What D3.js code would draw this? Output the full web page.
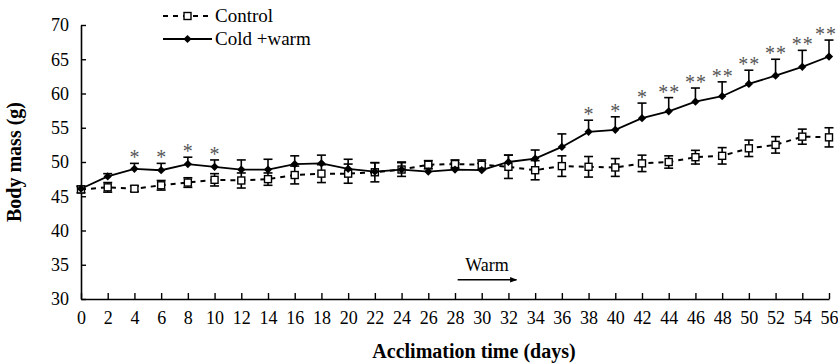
<!DOCTYPE html>
<html><head><meta charset="utf-8">
<script src="https://cdn.jsdelivr.net/npm/d3@7"></script>
<style>
html,body{margin:0;padding:0;background:#fff;}
svg{display:block;font-family:"Liberation Serif","Times New Roman",serif;}
</style></head>
<body><svg id="chart" width="838" height="363"></svg>
<script>
const days = [0,2,4,6,8,10,12,14,16,18,20,22,24,26,28,30,32,34,36,38,40,42,44,46,48,50,52,54,56];
const controlMean = [46.0,46.3,46.1,46.6,47.0,47.4,47.3,47.5,48.1,48.3,48.3,48.5,48.9,49.6,49.7,49.6,49.3,48.8,49.4,49.3,49.2,49.8,50.0,50.7,50.9,52.0,52.5,53.7,53.6];
const controlSE = [0.5,0.7,0.4,0.7,0.7,0.9,1.1,0.9,1.3,1.3,1.4,1.4,1.0,0.6,0.6,0.7,1.7,1.4,1.5,1.5,1.3,1.2,0.9,1.0,1.2,1.2,1.2,1.1,1.4];
const coldMean = [46.1,47.9,49.0,48.8,49.7,49.3,48.9,48.9,49.7,49.8,49.0,48.6,48.9,48.6,48.9,48.8,50.0,50.5,52.2,54.4,54.7,56.4,57.4,58.8,59.6,61.4,62.6,63.9,65.4];
const coldSE = [0.3,0.4,0.8,1.0,1.0,1.0,1.4,1.5,1.2,1.2,1.4,1.3,1.1,0.8,1.0,1.0,1.0,1.25,1.9,1.7,1.9,2.2,2.0,2.0,2.1,2.0,2.4,2.4,2.4];
const significance = ["","","*","*","*","*","","","","","","","","","","","","","","*","*","*","**","**","**","**","**","**","**"];
const yTicks = [30,35,40,45,50,55,60,65,70];
const xTicks = days;
const seriesNames = ["Control","Cold +warm"];
const xTitle = "Acclimation time (days)";
const yTitle = "Body mass (g)";
const warmLabel = "Warm";
const warmArrow = {from: 28.2, to: 32.6, value: 32.8};

const svg = d3.select("#chart");
const x = d3.scaleLinear().domain([0,56]).range([81,829]);
const y = d3.scaleLinear().domain([30,70]).range([299,25]);

// axes
const yAxis = d3.axisLeft(y).tickValues(yTicks).tickSizeInner(-5).tickSizeOuter(0).tickPadding(12);
const gy = svg.append("g").attr("transform",`translate(${x(0)},0)`).call(yAxis);
const xAxis = d3.axisBottom(x).tickValues(xTicks).tickSizeInner(-6).tickSizeOuter(0).tickPadding(12);
const gx = svg.append("g").attr("transform",`translate(0,${y(30)})`).call(xAxis);
[gx,gy].forEach(g=>{
  g.select(".domain").attr("stroke","#000").attr("stroke-width",1.6);
  g.selectAll(".tick line").attr("stroke","#000").attr("stroke-width",1.4);
  g.selectAll(".tick text").attr("fill","#000").style("font-size","18px").style("font-family","'Liberation Serif',serif");
});

// axis titles
svg.append("text").attr("x",474).attr("y",358).attr("text-anchor","middle")
  .style("font-size","20px").style("font-weight","bold").text(xTitle);
svg.append("text").attr("transform",`translate(21,${(y(30)+y(70))/2}) rotate(-90)`).attr("text-anchor","middle")
  .style("font-size","20px").style("font-weight","bold").text(yTitle);

const ctrl = days.map((d,i)=>({d, m:controlMean[i], se:controlSE[i]}));
const cold = days.map((d,i)=>({d, m:coldMean[i], se:coldSE[i], s:significance[i]}));

const line = d3.line().x(p=>x(p.d)).y(p=>y(p.m));

// control error bars (both directions)
const ce = svg.append("g").attr("stroke","#000").attr("stroke-width",1.6);
ctrl.forEach(p=>{
  ce.append("line").attr("x1",x(p.d)).attr("x2",x(p.d)).attr("y1",y(p.m-p.se)).attr("y2",y(p.m+p.se));
  [p.m-p.se,p.m+p.se].forEach(v=>ce.append("line").attr("x1",x(p.d)-4.5).attr("x2",x(p.d)+4.5).attr("y1",y(v)).attr("y2",y(v)));
});
// control line
svg.append("path").datum(ctrl).attr("d",line).attr("fill","none").attr("stroke","#000")
  .attr("stroke-width",2).attr("stroke-dasharray","5,5");

// cold error bars (upward)
const we = svg.append("g").attr("stroke","#000").attr("stroke-width",1.6);
cold.forEach(p=>{
  we.append("line").attr("x1",x(p.d)).attr("x2",x(p.d)).attr("y1",y(p.m)).attr("y2",y(p.m+p.se));
  we.append("line").attr("x1",x(p.d)-4.5).attr("x2",x(p.d)+4.5).attr("y1",y(p.m+p.se)).attr("y2",y(p.m+p.se));
});
// cold line
svg.append("path").datum(cold).attr("d",line).attr("fill","none").attr("stroke","#000").attr("stroke-width",1.8);

// control markers
svg.append("g").selectAll("rect").data(ctrl).join("rect")
  .attr("x",p=>x(p.d)-3.5).attr("y",p=>y(p.m)-3.5).attr("width",7).attr("height",7)
  .attr("fill","#fff").attr("stroke","#000").attr("stroke-width",1.4);
// cold markers (diamonds)
const diamondPath = d3.symbol().type(d3.symbolSquare).size(34)();
svg.append("g").selectAll("path").data(cold).join("path")
  .attr("d",diamondPath).attr("transform",p=>`translate(${x(p.d)},${y(p.m)}) rotate(45)`)
  .attr("fill","#000");

// significance stars
const sg = svg.append("g").attr("fill","#555").style("font-size","20px");
cold.forEach(p=>{
  if(!p.s) return;
  const n = p.s.length, gap = 11;
  let cx = x(p.d);
  const right = cx + (n-1)/2*gap + 5;
  if(right > 836) cx -= right - 836;
  for(let k=0;k<n;k++){
    sg.append("text").attr("x",cx+(k-(n-1)/2)*gap).attr("y",y(p.m+p.se)+1)
      .attr("text-anchor","middle").text("*");
  }
});

// warm annotation
svg.append("text").attr("x",(x(warmArrow.from)+x(warmArrow.to))/2).attr("y",y(warmArrow.value)-9)
  .attr("text-anchor","middle").style("font-size","18px").text(warmLabel);
svg.append("defs").append("marker").attr("id","arr").attr("viewBox","0 0 10 10").attr("refX",9).attr("refY",5)
  .attr("markerWidth",7).attr("markerHeight",7).attr("markerUnits","userSpaceOnUse").attr("orient","auto")
  .append("path").attr("d","M0,1 L10,5 L0,9 Z").attr("fill","#000");
svg.append("line").attr("x1",x(warmArrow.from)).attr("x2",x(warmArrow.to))
  .attr("y1",y(warmArrow.value)).attr("y2",y(warmArrow.value))
  .attr("stroke","#000").attr("stroke-width",1.6).attr("marker-end","url(#arr)");

// legend
const lg = svg.append("g");
const lx0 = 163, lx1 = 212;
lg.append("line").attr("x1",lx0).attr("x2",lx1).attr("y1",16).attr("y2",16)
  .attr("stroke","#000").attr("stroke-width",2).attr("stroke-dasharray","5,5");
lg.append("rect").attr("x",(lx0+lx1)/2-3.5).attr("y",12.5).attr("width",7).attr("height",7)
  .attr("fill","#fff").attr("stroke","#000").attr("stroke-width",1.4);
lg.append("text").attr("x",215).attr("y",22).style("font-size","19px").text(seriesNames[0]);
lg.append("line").attr("x1",lx0).attr("x2",lx1).attr("y1",39).attr("y2",39)
  .attr("stroke","#000").attr("stroke-width",1.8);
lg.append("path").attr("d",diamondPath).attr("transform",`translate(${(lx0+lx1)/2},39) rotate(45)`).attr("fill","#000");
lg.append("text").attr("x",215).attr("y",45).style("font-size","19px").text(seriesNames[1]);
</script></body></html>
